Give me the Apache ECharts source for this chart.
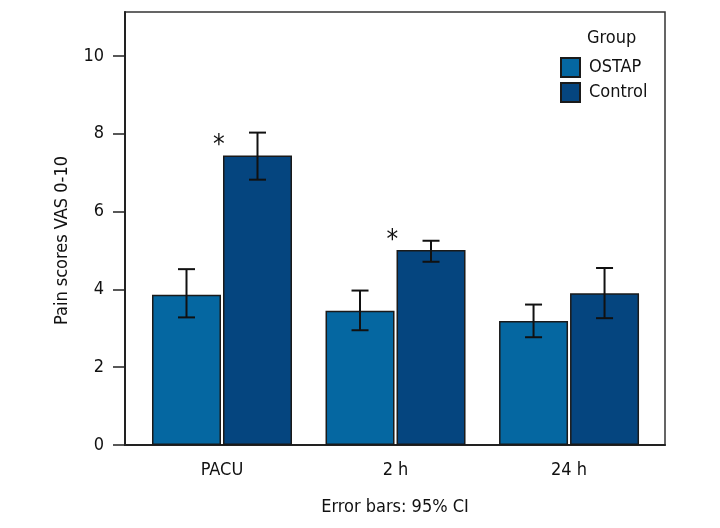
<!DOCTYPE html>
<html>
<head>
<meta charset="utf-8">
<script src="https://cdn.jsdelivr.net/npm/echarts@6/dist/echarts.min.js"></script>
<style>
  html, body { margin: 0; padding: 0; background: #fff; }
  #main { width: 720px; height: 528px; }
</style>
</head>
<body>
<div id="main"></div>
<script>
// 数据
var categories = ['PACU', '2 h', '24 h'];
var ostapMean = [3.86, 3.45, 3.19];
var ostapLow = [3.28, 2.95, 2.77];
var ostapHigh = [4.52, 3.97, 3.61];
var controlMean = [7.44, 5.01, 3.90];
var controlLow = [6.82, 4.71, 3.26];
var controlHigh = [8.03, 5.25, 4.55];
var stars = ['*', '*', ''];
var yTicks = [0, 2, 4, 6, 8, 10];

var FONT = '"DejaVu Sans Condensed", sans-serif';
var BAR_W = 69;
var GAP = 2;
var OSTAP_COLOR = '#0567a1';
var CONTROL_COLOR = '#05457f';

function toPairs(vals) {
    return vals.map(function (v, i) { return [i, v]; });
}

// 误差线
function errorBar(lows, highs, side) {
    return {
        type: 'custom',
        silent: true,
        z: 5,
        data: lows.map(function (lo, i) { return [i, lo, highs[i]]; }),
        renderItem: function (params, api) {
            var lo = api.coord([api.value(0), api.value(1)]);
            var hi = api.coord([api.value(0), api.value(2)]);
            var x = lo[0] + side * (BAR_W + GAP) / 2;
            var cap = 8.5;
            var style = { stroke: '#111', lineWidth: 2 };
            return {
                type: 'group',
                children: [
                    { type: 'line', shape: { x1: x, y1: lo[1], x2: x, y2: hi[1] }, style: style },
                    { type: 'line', shape: { x1: x - cap, y1: hi[1], x2: x + cap, y2: hi[1] }, style: style },
                    { type: 'line', shape: { x1: x - cap, y1: lo[1], x2: x + cap, y2: lo[1] }, style: style }
                ]
            };
        }
    };
}

var myChart = echarts.init(document.getElementById('main'));
myChart.setOption({
    animation: false,
    textStyle: { fontFamily: FONT },
    title: {
        text: 'Group',
        left: 587,
        top: 29,
        padding: 0,
        textStyle: { fontFamily: FONT, fontSize: 18, fontWeight: 'normal', color: '#111' }
    },
    legend: {
        orient: 'vertical',
        left: 560,
        top: 57,
        padding: 0,
        itemWidth: 19,
        itemHeight: 19,
        itemGap: 4,
        icon: 'rect',
        data: ['OSTAP', 'Control'],
        textStyle: { fontFamily: FONT, fontSize: 18, color: '#111', padding: [0, 0, 0, 4] }
    },
    grid: {
        left: 125,
        right: 55,
        top: 12,
        bottom: 83,
        show: true,
        borderColor: '#333',
        borderWidth: 1.5
    },
    xAxis: {
        type: 'value',
        min: -0.559,
        max: 2.553,
        name: 'Error bars: 95% CI',
        nameLocation: 'middle',
        nameGap: 53,
        nameTextStyle: { fontFamily: FONT, fontSize: 18, color: '#111' },
        axisLine: { show: true, onZero: false, lineStyle: { color: '#222', width: 2 } },
        axisTick: { show: false },
        splitLine: { show: false },
        axisLabel: {
            customValues: [0, 1, 2],
            formatter: function (v) { return categories[Math.round(v)]; },
            margin: 16,
            fontFamily: FONT,
            fontSize: 18,
            color: '#111'
        }
    },
    yAxis: {
        type: 'value',
        min: 0,
        max: 11.13,
        interval: 2,
        name: 'Pain scores VAS 0-10',
        nameLocation: 'middle',
        nameGap: 54,
        nameTextStyle: { fontFamily: FONT, fontSize: 18, color: '#111', padding: [0, 24, 0, 0] },
        axisLine: { show: true, onZero: false, lineStyle: { color: '#222', width: 2 } },
        axisTick: { show: true, length: 12, customValues: yTicks, lineStyle: { color: '#222', width: 1.5 } },
        splitLine: { show: false },
        axisLabel: {
            customValues: yTicks,
            margin: 21,
            fontFamily: FONT,
            fontSize: 18,
            color: '#111'
        }
    },
    series: [
        {
            name: 'OSTAP',
            type: 'bar',
            barWidth: BAR_W,
            barGap: (GAP / BAR_W * 100) + '%',
            itemStyle: { color: OSTAP_COLOR, borderColor: '#1a1a1a', borderWidth: 1.5 },
            data: toPairs(ostapMean)
        },
        {
            name: 'Control',
            type: 'bar',
            barWidth: BAR_W,
            barGap: (GAP / BAR_W * 100) + '%',
            itemStyle: { color: CONTROL_COLOR, borderColor: '#1a1a1a', borderWidth: 1.5 },
            label: {
                show: true,
                position: [-10, -22],
                formatter: function (p) { return stars[p.dataIndex]; },
                fontFamily: FONT,
                fontSize: 26,
                color: '#111'
            },
            data: toPairs(controlMean)
        },
        errorBar(ostapLow, ostapHigh, -1),
        errorBar(controlLow, controlHigh, 1)
    ]
});
</script>
</body>
</html>
